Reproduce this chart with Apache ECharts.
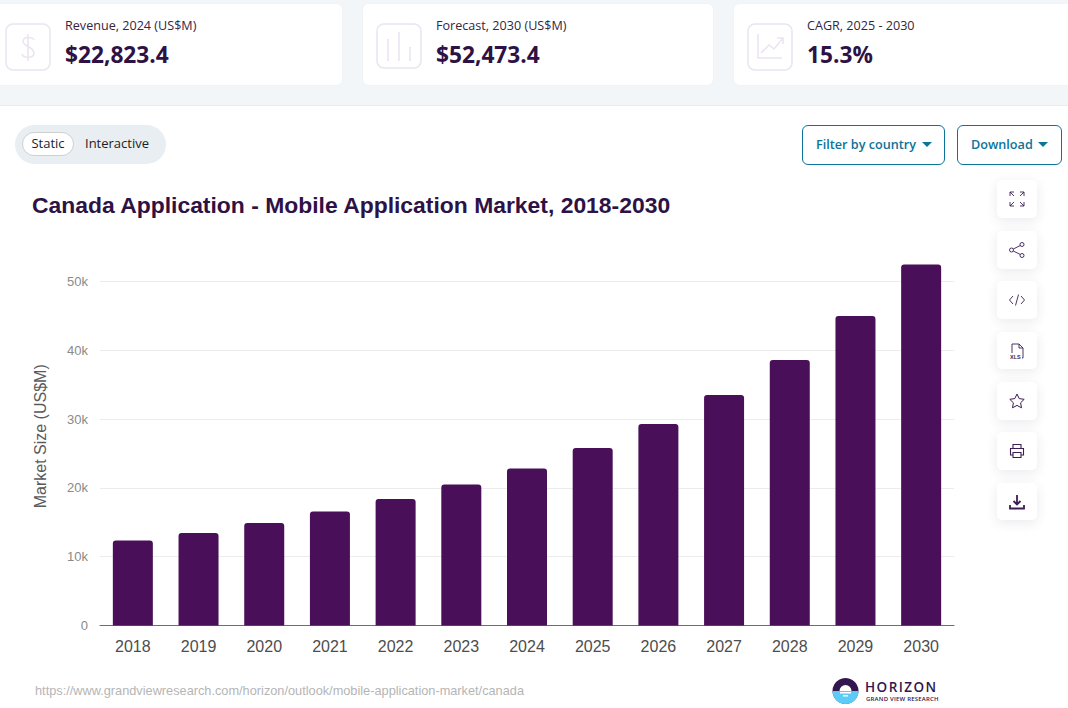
<!DOCTYPE html>
<html>
<head>
<meta charset="utf-8">
<title>Canada Application - Mobile Application Market</title>
<script src="https://cdn.jsdelivr.net/npm/echarts@6/dist/echarts.min.js"></script>
<style>
html, body { margin: 0; padding: 0; background: #fff; overflow: hidden; }
body { width: 1068px; height: 708px; position: relative; font-family: "Open Sans", sans-serif; }
#chart { position: absolute; left: 0; top: 0; width: 1068px; height: 708px; }
.band { position: absolute; left: 0; top: 0; width: 1068px; height: 105px; background: #f2f6f9; border-bottom: 1px solid #e9edf0; }
.card { position: absolute; top: 4px; height: 81px; background: #fff; border-radius: 5px; box-shadow: 0 0 1px #dfe4ea; }
.card .ico { position: absolute; top: 19px; left: 5px; }
.card .lab { position: absolute; top: 13px; font-size: 12.6px; line-height: 17px; color: #33263f; white-space: nowrap; }
.card .val { position: absolute; top: 36px; font-size: 22.7px; line-height: 30px; font-weight: 700; color: #2e1245; white-space: nowrap; }
.toggle { position: absolute; left: 15px; top: 125px; width: 151px; height: 39px; border-radius: 20px; background: #e8eef1; font-size: 13px; color: #1d1d26; }
.toggle .on { position: absolute; left: 7px; top: 7px; width: 50px; height: 22px; line-height: 21px; text-align: center; background: #fff; border: 1px solid #cfcfcf; border-radius: 12px; }
.toggle .off { position: absolute; left: 70px; top: 9px; line-height: 18px; }
.btn { position: absolute; top: 125px; height: 38px; line-height: 36px; border: 1px solid #0a7499; border-radius: 6px; color: #0a7499; font-size: 12.65px; font-weight: 600; background: #fff; box-sizing: content-box; white-space: nowrap; }
.btn span { position: absolute; left: 13px; }
.btn i { position: absolute; top: 16px; width: 0; height: 0; border-left: 5px solid transparent; border-right: 5px solid transparent; border-top: 5px solid #0a7499; }
.tool { position: absolute; left: 997px; width: 40px; height: 38px; background: #fff; border-radius: 5px; box-shadow: 0 3px 12px rgba(60, 50, 80, 0.1); }
.tool svg { position: absolute; left: 11px; top: 10px; }
.brand { position: absolute; left: 865px; white-space: nowrap; color: #33164f; font-weight: 600; }
</style>
</head>
<body>
<div id="chart"></div>

<div class="band"></div>
<div class="card" style="left:-6px;width:348px">
  <svg class="ico" style="left:11px" width="46" height="48" fill="none" stroke="#ebe4f2" stroke-width="1.6"><rect x="1" y="1" width="44" height="46" rx="7"/><path d="M29 17c-1-3-10-4-11 1s11 6 11 12-11 5-12 1M23 11v27"/></svg>
  <div class="lab" style="left:71px">Revenue, 2024 (US$M)</div>
  <div class="val" style="left:71px">$22,823.4</div>
</div>
<div class="card" style="left:363px;width:350px">
  <svg class="ico" style="left:13px" width="46" height="46" fill="none" stroke="#ebe4f2" stroke-width="1.6"><rect x="1" y="1" width="44" height="44" rx="7"/><path d="M12 16v22M23 9v29M34 24v14"/></svg>
  <div class="lab" style="left:73px">Forecast, 2030 (US$M)</div>
  <div class="val" style="left:73px">$52,473.4</div>
</div>
<div class="card" style="left:734px;width:340px">
  <svg class="ico" style="left:13px" width="46" height="48" fill="none" stroke="#ebe4f2" stroke-width="1.6"><rect x="1" y="1" width="44" height="46" rx="7"/><path d="M11 11v24h24M14 30l8-8 5 4 9-11M30 15h6v6"/></svg>
  <div class="lab" style="left:73px">CAGR, 2025 - 2030</div>
  <div class="val" style="left:73px">15.3%</div>
</div>

<div class="toggle"><div class="on">Static</div><div class="off">Interactive</div></div>
<div class="btn" style="left:802px;width:141px"><span>Filter by country</span><i style="left:119px"></i></div>
<div class="btn" style="left:957px;width:103px"><span>Download</span><i style="left:80px"></i></div>

<div class="tool" style="top:180px"><svg width="18" height="18" fill="none" stroke="#3b1d54" stroke-width="0.9"><path d="M2 6V2h4M2 2l4 4M12 2h4v4M16 2l-4 4M2 12v4h4M2 16l4-4M12 16h4v-4M16 16l-4-4"/></svg></div>
<div class="tool" style="top:231px"><svg width="18" height="18" fill="none" stroke="#3b1d54" stroke-width="0.9"><circle cx="3.5" cy="9" r="2"/><circle cx="14" cy="3.5" r="2"/><circle cx="14" cy="14.5" r="2"/><path d="M5.3 8l7-3.5M5.3 10l7 3.5"/></svg></div>
<div class="tool" style="top:281px"><svg width="18" height="18" fill="none" stroke="#3b1d54" stroke-width="0.9"><path d="M5 5L1.500 9 5 13M13 5l3.500 4-3.500 4M10.500 3.500l-3 11"/></svg></div>
<div class="tool" style="top:332px;height:37px"><svg width="18" height="18" fill="none" stroke="#3b1d54" stroke-width="0.9"><path d="M4 11V2h7l4 4v10h-1M11 2v4h4"/><text x="2" y="16.500" font-size="5.500" font-weight="700" font-family="Liberation Sans" fill="#3b1d54" stroke="none">XLS</text></svg></div>
<div class="tool" style="top:382px"><svg width="18" height="18" fill="none" stroke="#3b1d54" stroke-width="1"><path d="M9 2l2.200 4.600 5 .7-3.600 3.500.9 5L9 13.400l-4.500 2.400.9-5L1.800 7.300l5-.7z"/></svg></div>
<div class="tool" style="top:432px"><svg width="18" height="18" fill="none" stroke="#3b1d54" stroke-width="1.1"><path d="M5 6V2.500h8V6M5 13H2.500V6.500h13V13H13M5 10.500h8v5H5z"/></svg></div>
<div class="tool" style="top:483px;height:37px"><svg width="18" height="18" fill="none" stroke="#3b1d54" stroke-width="1.8"><path d="M9 2v9M5.500 8L9 11.500 12.500 8M2 12v3.500h14V12"/></svg></div>

<div class="brand" style="top:680px;font-size:13.5px;line-height:14px;letter-spacing:1.45px">HORIZON</div>
<div class="brand" style="top:696px;left:866px;font-size:6px;line-height:6px;letter-spacing:0.2px">GRAND VIEW RESEARCH</div>

<script>
var years = ['2018', '2019', '2020', '2021', '2022', '2023', '2024', '2025', '2026', '2027', '2028', '2029', '2030'];
var marketSize = [12350, 13450, 14900, 16570, 18400, 20500, 22823.4, 25800, 29300, 33500, 38600, 45000, 52473.4];

var chartTitle = 'Canada Application - Mobile Application Market, 2018-2030';
var yAxisName = 'Market Size (US$M)';
var sourceUrl = 'https://www.grandviewresearch.com/horizon/outlook/mobile-application-market/canada';

var chartFont = '"Liberation Sans", Arial, sans-serif';

var chart = echarts.init(document.getElementById('chart'), null, {renderer: 'svg'});
chart.setOption({
    animation: false,
    title: {
        text: chartTitle,
        left: 27,
        top: 188,
        textStyle: {
            fontFamily: chartFont,
            fontSize: 22.9,
            fontWeight: 'bold',
            color: '#2e1245'
        }
    },
    grid: {
        left: 100,
        right: 114,
        top: 247.1,
        height: 378.4
    },
    xAxis: {
        type: 'category',
        data: years,
        axisTick: {show: false},
        axisLine: {lineStyle: {color: '#6e6e6e', width: 1}},
        axisLabel: {
            margin: 13,
            fontFamily: chartFont,
            fontSize: 16,
            color: '#4d4d4d'
        }
    },
    yAxis: {
        type: 'value',
        min: 0,
        max: 55000,
        interval: 10000,
        name: yAxisName,
        nameLocation: 'middle',
        nameGap: 52,
        nameTextStyle: {
            fontFamily: chartFont,
            fontSize: 16,
            color: '#5a5a5a'
        },
        axisLine: {show: false},
        axisTick: {show: false},
        axisLabel: {
            showMaxLabel: false,
            margin: 12,
            fontFamily: chartFont,
            fontSize: 13,
            color: '#8a8a8a',
            formatter: function (v) {
                return v === 0 ? '0' : (v / 1000) + 'k';
            }
        },
        splitLine: {
            showMaxLine: false,
            lineStyle: {color: '#ececec', width: 1}
        }
    },
    series: [
        {
            name: 'Market Size',
            type: 'bar',
            data: marketSize,
            barWidth: 40,
            itemStyle: {
                color: '#4a0f59',
                borderRadius: [3, 3, 0, 0]
            }
        }
    ],
    graphic: [
        {
            type: 'text',
            left: 35,
            top: 684,
            style: {
                text: sourceUrl,
                fontFamily: chartFont,
                fontSize: 12.75,
                fill: '#b5b5b5'
            }
        },
        // logo
        {
            type: 'circle',
            shape: {cx: 845.5, cy: 691, r: 13},
            style: {fill: '#33164f'}
        },
        {
            type: 'sector',
            shape: {cx: 845.5, cy: 691, r: 13, r0: 0, startAngle: 0, endAngle: Math.PI},
            style: {fill: '#5ccbf7'}
        },
        {
            type: 'sector',
            shape: {cx: 845.5, cy: 691, r: 6, r0: 0, startAngle: Math.PI, endAngle: Math.PI * 2},
            style: {fill: '#fff'}
        },
        {
            type: 'rect',
            shape: {x: 840, y: 692, width: 11, height: 1.5},
            style: {fill: '#fff'}
        },
        {
            type: 'rect',
            shape: {x: 843, y: 695, width: 5, height: 1.5},
            style: {fill: '#fff'}
        }
    ]
});
window.addEventListener('resize', function () {
    chart.resize();
});
</script>
</body>
</html>
